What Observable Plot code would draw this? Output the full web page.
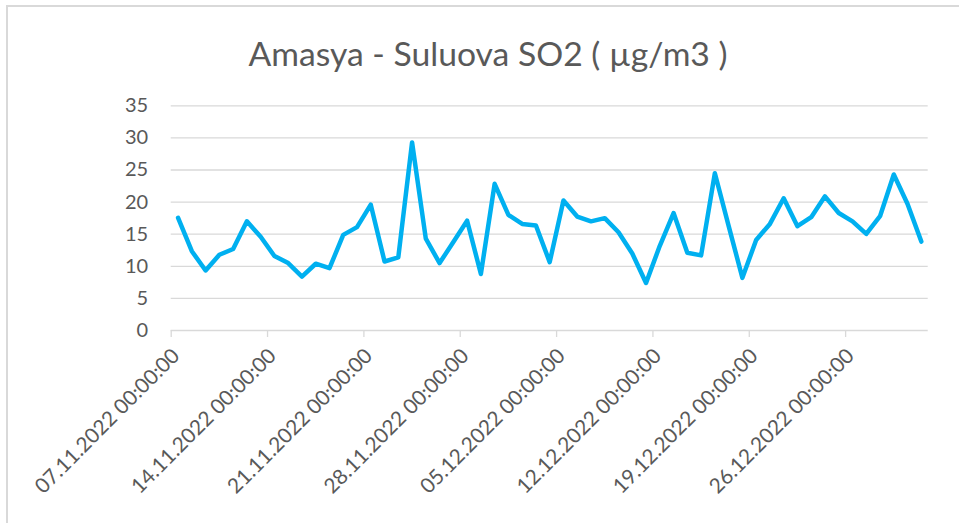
<!DOCTYPE html>
<html><head><meta charset="utf-8">
<script src="https://cdn.jsdelivr.net/npm/d3@7"></script>
<script src="https://cdn.jsdelivr.net/npm/@observablehq/plot@0.6"></script>
<style>
body{margin:0;background:#fff;}
#wrap{position:relative;width:959px;height:523px;overflow:hidden;font-family:Lato,sans-serif;}
#frame{position:absolute;left:6px;top:5px;width:1000px;height:600px;border-left:2px solid #d9d9d9;border-top:2px solid #d9d9d9;}
#title{position:absolute;left:0;top:33px;width:976px;text-align:center;font-size:33.7px;line-height:40px;color:#595959;}
#chart{position:absolute;left:0;top:90px;}
</style></head>
<body>
<div id="wrap"><div id="frame"></div><div id="title">Amasya - Suluova SO2 ( µg/m3 )</div><div id="chart"></div></div>
<script>
const startDate = new Date(Date.UTC(2022, 10, 7));
const endDate = new Date(Date.UTC(2023, 0, 1));
const dates = d3.utcDay.range(startDate, endDate); // 07.11.2022 .. 31.12.2022
const so2 = [17.55,12.35,9.35,11.8,12.7,17.0,14.6,11.6,10.5,8.4,
             10.4,9.7,14.9,16.1,19.6,10.75,11.4,29.3,14.3,10.5,
             13.8,17.1,8.8,22.85,18.0,16.6,16.35,10.65,20.25,17.75,
             17.0,17.5,15.3,12.0,7.4,13.2,18.3,12.1,11.7,24.5,
             16.3,8.2,14.1,16.6,20.6,16.25,17.65,20.9,18.3,17.0,
             15.05,17.8,24.3,19.7,13.85];
const yTicks = [0,5,10,15,20,25,30,35];
const xTickDates = ["2022-11-07","2022-11-14","2022-11-21","2022-11-28","2022-12-05","2022-12-12","2022-12-19","2022-12-26"].map(s => new Date(s + "T00:00:00Z"));
const fmt = d3.utcFormat("%d.%m.%Y %H:%M:%S");

const data = dates.map((d, i) => ({date: d, value: so2[i]}));

const chart = Plot.plot({
  width: 959, height: 433,
  marginTop: 15.3, marginBottom: 193, marginLeft: 170.7, marginRight: 31.3,
  style: {fontFamily: "Lato, sans-serif", fontSize: "20px", color: "#595959", background: "transparent", overflow: "visible"},
  x: {type: "utc", domain: [startDate, endDate]},
  y: {domain: [0, 35]},
  marks: [
    Plot.gridY(yTicks.filter(v => v > 0), {stroke: "#d9d9d9", strokeOpacity: 1, strokeWidth: 1.3}),
    Plot.ruleY([0], {stroke: "#d9d9d9", strokeWidth: 1.3}),
    Plot.axisY(yTicks, {tickSize: 0, tickPadding: 23, fill: "#595959", fontSize: 20, label: null}),
    Plot.axisX(xTickDates, {tickSize: 7, tickFormat: () => "", stroke: "#d9d9d9", strokeWidth: 1.3, strokeOpacity: 1, label: null}),
    Plot.axisX(xTickDates, {tickSize: 0, tickRotate: -45, tickFormat: fmt, fill: "#595959", fontSize: 20.8, tickPadding: 22, dx: 5, label: null}),
    Plot.lineY(data, {x: d => d3.utcHour.offset(d.date, 12), y: "value", stroke: "#00B0F0", strokeWidth: 4.5, strokeLinejoin: "round", strokeLinecap: "round"})
  ]
});
document.getElementById("chart").appendChild(chart);
</script>
</body></html>
